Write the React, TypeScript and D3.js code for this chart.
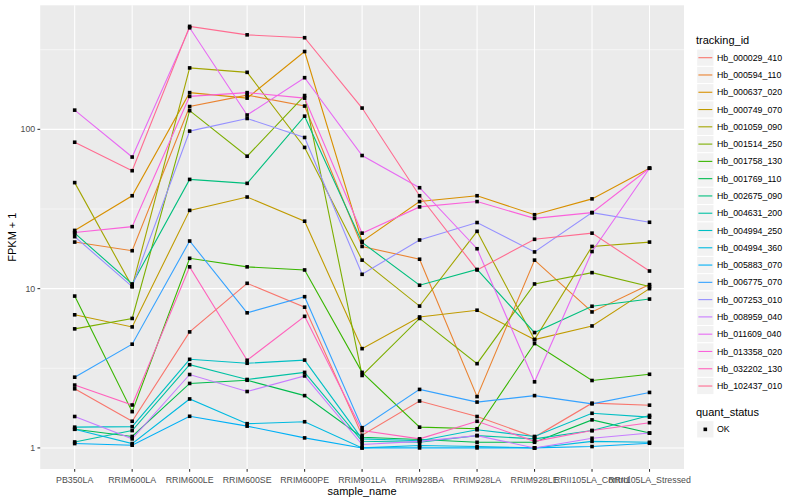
import React from "react";
import * as d3 from "d3";

const samples = ["PB350LA","RRIM600LA","RRIM600LE","RRIM600SE","RRIM600PE","RRIM901LA","RRIM928BA","RRIM928LA","RRIM928LE","RRII105LA_Control","RRII105LA_Stressed"];

const hb_000029_410 = [2.35, 1.47, 5.35, 10.8, 7.65, 1.2, 1.97, 1.575, 1.17, 1.91, 1.855];
const hb_000594_110 = [19.6, 17.3, 139, 164, 140, 18.4, 15.3, 2.1, 15.1, 7.14, 10.6];
const hb_000637_020 = [23.2, 38.3, 170, 157, 308, 19.8, 35.2, 38.3, 29.1, 36.6, 57];
const hb_000749_070 = [6.85, 5.75, 31, 37.6, 26.5, 4.2, 6.64, 7.32, 4.79, 5.83, 10.0];
const hb_001059_090 = [46.3, 10.3, 243, 228, 77, 15.1, 7.77, 22.9, 4.79, 18.4, 19.6];
const hb_001514_250 = [5.59, 6.5, 131, 67.8, 163, 2.85, 6.5, 3.38, 10.7, 12.6, 10.3];
const hb_001758_130 = [8.98, 1.69, 15.5, 13.7, 13.1, 2.98, 1.35, 1.32, 4.52, 2.65, 2.9];
const hb_001769_110 = [1.31, 1.18, 2.54, 2.66, 2.13, 1.166, 1.13, 1.085, 1.085, 1.5, 1.24];
const hb_002675_090 = [22.3, 10.7, 48.5, 45.8, 121, 19.5, 10.5, 13.2, 5.3, 7.75, 8.6];
const hb_004631_200 = [1.09, 1.285, 3.33, 2.69, 2.98, 1.1, 1.085, 1.195, 1.14, 1.285, 1.6];
const hb_004994_250 = [1.35, 1.36, 3.6, 3.4, 3.56, 1.14, 1.11, 1.3, 1.18, 1.65, 1.56];
const hb_004994_360 = [1.31, 1.065, 2.03, 1.42, 1.46, 1.0, 1.035, 1.02, 1.0, 1.1, 1.085];
const hb_005883_070 = [1.065, 1.04, 1.58, 1.37, 1.156, 1.0, 1.0, 1.0, 1.0, 1.02, 1.07];
const hb_006775_070 = [2.78, 4.48, 19.9, 7.05, 8.9, 1.34, 2.33, 1.94, 2.13, 1.89, 2.23];
const hb_007253_010 = [21.2, 10.3, 97.5, 117, 88.9, 12.3, 20.2, 26, 17.0, 30, 26.1];
const hb_008959_040 = [1.575, 1.14, 2.89, 2.26, 2.83, 1.05, 1.1, 1.195, 1.0, 1.15, 1.24];
const hb_011609_040 = [132, 67, 434, 123, 211, 68.5, 43, 17.8, 2.6, 17.1, 57];
const hb_013358_020 = [22.5, 24.5, 161, 170, 157, 22.3, 32.6, 35.2, 27.6, 30, 57];
const hb_032202_130 = [2.48, 1.86, 13.7, 3.55, 6.7, 1.285, 1.14, 1.47, 1.1, 1.285, 1.44];
const hb_102437_010 = [83, 55, 443, 392, 376, 136, 38.3, 13.1, 20.4, 22.3, 12.9];

const trackingIds = ["Hb_000029_410","Hb_000594_110","Hb_000637_020","Hb_000749_070","Hb_001059_090","Hb_001514_250","Hb_001758_130","Hb_001769_110","Hb_002675_090","Hb_004631_200","Hb_004994_250","Hb_004994_360","Hb_005883_070","Hb_006775_070","Hb_007253_010","Hb_008959_040","Hb_011609_040","Hb_013358_020","Hb_032202_130","Hb_102437_010"];
const seriesValues = [hb_000029_410, hb_000594_110, hb_000637_020, hb_000749_070, hb_001059_090, hb_001514_250, hb_001758_130, hb_001769_110, hb_002675_090, hb_004631_200, hb_004994_250, hb_004994_360, hb_005883_070, hb_006775_070, hb_007253_010, hb_008959_040, hb_011609_040, hb_013358_020, hb_032202_130, hb_102437_010];
const palette = ["#F8766D","#EA8331","#D89000","#C09B00","#A3A500","#7CAE00","#39B600","#00BB4E","#00BF7D","#00C1A3","#00BFC4","#00BAE0","#00B0F6","#35A2FF","#9590FF","#C77CFF","#E76BF3","#FA62DB","#FF62BC","#FF6C91"];
const yTicks = [1, 10, 100];
const yMinor = [Math.pow(10, 0.5), Math.pow(10, 1.5), Math.pow(10, 2.5)];
const quantStatus = ["OK"];

const W = 800, H = 500;
const pL = 40.2, pR = 684, pT = 5.3, pB = 469;
const FONT = "'Liberation Sans', Arial, Helvetica, sans-serif";

export default function App() {
  const all = seriesValues.flat();
  const lmin = Math.log10(d3.min(all) as number);
  const lmax = Math.log10(d3.max(all) as number);
  const ex = (lmax - lmin) * 0.05;
  const y = d3.scaleLog().domain([Math.pow(10, lmin - ex), Math.pow(10, lmax + ex)]).range([pB, pT]);
  const x = d3.scalePoint<string>().domain(samples).range([pL, pR]).padding(0.6);
  const line = d3.line<number>().x((_, i) => x(samples[i]) as number).y((v) => y(v));
  const keyH = 17.28;
  const leg1Top = 57.7 - keyH / 2;
  const ps = 3.6;
  return (
    <svg width={W} height={H} style={{ position: "absolute", left: 0, top: 0, background: "#fff" }} fontFamily={FONT}>
      <rect x={0} y={0} width={W} height={H} fill="#fff" />
      <rect x={pL} y={pT} width={pR - pL} height={pB - pT} fill="#EBEBEB" />
      {yMinor.map((t) => (
        <line key={"ym" + t} x1={pL} x2={pR} y1={y(t)} y2={y(t)} stroke="#fff" strokeWidth={0.55} />
      ))}
      {yTicks.map((t) => (
        <line key={"yg" + t} x1={pL} x2={pR} y1={y(t)} y2={y(t)} stroke="#fff" strokeWidth={1.07} />
      ))}
      {samples.map((s) => (
        <line key={"xg" + s} x1={x(s)} x2={x(s)} y1={pT} y2={pB} stroke="#fff" strokeWidth={1.07} />
      ))}
      {seriesValues.map((vals, i) => (
        <path key={"l" + i} d={line(vals) as string} fill="none" stroke={palette[i]} strokeWidth={1.1} />
      ))}
      {seriesValues.map((vals, i) =>
        vals.map((v, j) => (
          <rect key={"p" + i + "_" + j} x={(x(samples[j]) as number) - ps / 2} y={y(v) - ps / 2} width={ps} height={ps} fill="#000" />
        ))
      )}
      {yTicks.map((t) => (
        <g key={"yt" + t}>
          <line x1={pL - 2.75} x2={pL} y1={y(t)} y2={y(t)} stroke="#333" strokeWidth={1.07} />
          <text x={pL - 5} y={y(t) + 3.1} fontSize={8.8} fill="#4D4D4D" textAnchor="end">{t}</text>
        </g>
      ))}
      {samples.map((s) => (
        <g key={"xt" + s}>
          <line x1={x(s)} x2={x(s)} y1={pB} y2={pB + 2.75} stroke="#333" strokeWidth={1.07} />
          <text x={x(s)} y={pB + 13.5} fontSize={8.8} fill="#4D4D4D" textAnchor="middle">{s}</text>
        </g>
      ))}
      <text x={(pL + pR) / 2} y={495} fontSize={11} fill="#000" textAnchor="middle">sample_name</text>
      <text transform={`translate(15.5, ${(pT + pB) / 2}) rotate(-90)`} fontSize={11} fill="#000" textAnchor="middle">FPKM + 1</text>

      <text x={696} y={44} fontSize={11} fill="#000">tracking_id</text>
      {trackingIds.map((id, i) => {
        const top = leg1Top + i * keyH;
        const cy = top + keyH / 2;
        return (
          <g key={"lg" + id}>
            <rect x={696.7} y={top} width={keyH} height={keyH} fill="#F2F2F2" stroke="#fff" strokeWidth={1} />
            <line x1={698.4} x2={712.3} y1={cy} y2={cy} stroke={palette[i]} strokeWidth={1.1} />
            <text x={717} y={cy + 3.1} fontSize={8.8} fill="#000">{id}</text>
          </g>
        );
      })}
      <text x={696} y={416} fontSize={11} fill="#000">quant_status</text>
      {quantStatus.map((q, i) => {
        const top = 420.7 + i * keyH;
        const cy = top + keyH / 2;
        return (
          <g key={"qs" + q}>
            <rect x={696.7} y={top} width={keyH} height={keyH} fill="#F2F2F2" stroke="#fff" strokeWidth={1} />
            <rect x={705.3 - ps / 2} y={cy - ps / 2} width={ps} height={ps} fill="#000" />
            <text x={717} y={cy + 3.1} fontSize={8.8} fill="#000">{q}</text>
          </g>
        );
      })}
    </svg>
  );
}
